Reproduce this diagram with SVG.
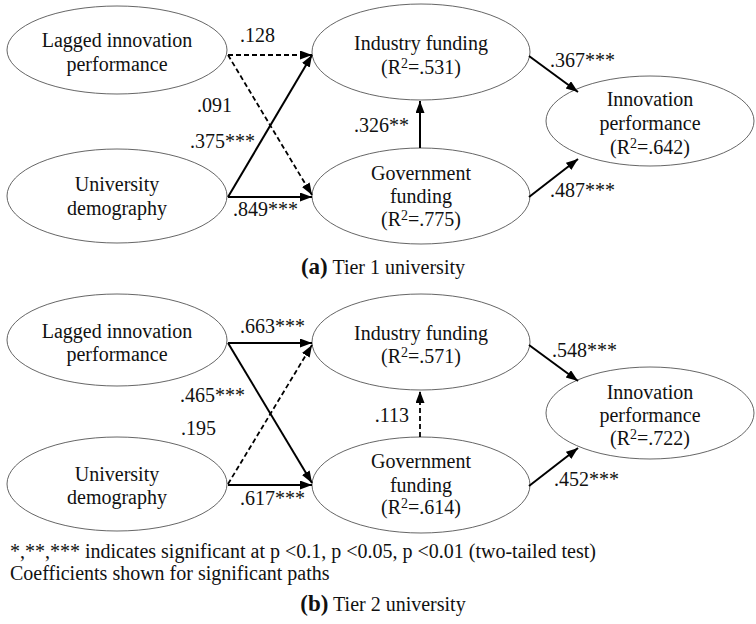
<svg xmlns="http://www.w3.org/2000/svg" width="756" height="624" viewBox="0 0 756 624">
<defs>
<marker id="ah" markerUnits="userSpaceOnUse" markerWidth="13" markerHeight="10" refX="12" refY="4.5" orient="auto">
<path d="M0,0 L12,4.5 L0,9 z" fill="#000"/>
</marker>
<style>
text{font-family:"Liberation Serif","Times New Roman",serif;fill:#111;}
.n ellipse{fill:#fff;stroke:#555;stroke-width:0.9;}
.n text{font-size:20px;text-anchor:middle;}
.lbl{font-size:20px;}
.s{stroke:#000;stroke-width:2;fill:none;marker-end:url(#ah);}
.d{stroke:#000;stroke-width:1.8;fill:none;stroke-dasharray:5,3;marker-end:url(#ah);}
.foot{font-size:20px;}
.cap{font-size:20px;text-anchor:middle;}
</style>
</defs>
<rect width="756" height="624" fill="#fff"/>

<!-- Panel (a) -->
<g id="a-lagged" class="n"><ellipse cx="117" cy="50" rx="110" ry="44"/><text x="117" y="47">Lagged innovation</text><text x="117" y="71">performance</text></g>
<g id="a-univ" class="n"><ellipse cx="117" cy="196" rx="110" ry="47"/><text x="117" y="191">University</text><text x="117" y="215">demography</text></g>
<g id="a-industry" class="n"><ellipse cx="421" cy="52" rx="109" ry="48"/><text x="421" y="50">Industry funding</text><text x="421" y="74">(R<tspan dy="-6" font-size="14">2</tspan><tspan dy="6">=.531)</tspan></text></g>
<g id="a-gov" class="n"><ellipse cx="421" cy="196" rx="109" ry="48"/><text x="421" y="180">Government</text><text x="421" y="203">funding</text><text x="421" y="226">(R<tspan dy="-6" font-size="14">2</tspan><tspan dy="6">=.775)</tspan></text></g>
<g id="a-innov" class="n"><ellipse cx="650" cy="121" rx="104" ry="45"/><text x="650" y="106">Innovation</text><text x="650" y="130">performance</text><text x="650" y="154">(R<tspan dy="-6" font-size="14">2</tspan><tspan dy="6">=.642)</tspan></text></g>

<g id="a-connectors">
<line class="d" x1="228" y1="55" x2="312" y2="55"/>
<line class="d" x1="228" y1="55" x2="312" y2="195"/>
<line class="s" x1="228" y1="197" x2="312" y2="55"/>
<line class="s" x1="228" y1="197" x2="312" y2="197"/>
<line class="s" x1="420" y1="148" x2="420" y2="101"/>
<line class="s" x1="529" y1="56" x2="578" y2="92"/>
<line class="s" x1="529" y1="197" x2="578" y2="159"/>
</g>
<g id="a-labels" class="lbl">
<text x="240" y="42">.128</text>
<text x="197" y="112">.091</text>
<text x="190" y="148">.375***</text>
<text x="233" y="216">.849***</text>
<text x="409" y="132" text-anchor="end">.326**</text>
<text x="550" y="67">.367***</text>
<text x="550" y="197">.487***</text>
</g>
<text class="cap" x="383" y="274"><tspan font-weight="bold" font-size="23">(a)</tspan> Tier 1 university</text>

<!-- Panel (b) -->
<g id="b-lagged" class="n"><ellipse cx="117" cy="340" rx="110" ry="46"/><text x="117" y="338">Lagged innovation</text><text x="117" y="361">performance</text></g>
<g id="b-univ" class="n"><ellipse cx="117" cy="484" rx="110" ry="47"/><text x="117" y="481">University</text><text x="117" y="504">demography</text></g>
<g id="b-industry" class="n"><ellipse cx="421" cy="342" rx="109" ry="48"/><text x="421" y="340">Industry funding</text><text x="421" y="363">(R<tspan dy="-6" font-size="14">2</tspan><tspan dy="6">=.571)</tspan></text></g>
<g id="b-gov" class="n"><ellipse cx="421" cy="485" rx="109" ry="48"/><text x="421" y="468">Government</text><text x="421" y="492">funding</text><text x="421" y="514">(R<tspan dy="-6" font-size="14">2</tspan><tspan dy="6">=.614)</tspan></text></g>
<g id="b-innov" class="n"><ellipse cx="650" cy="413" rx="104" ry="46"/><text x="650" y="399">Innovation</text><text x="650" y="422">performance</text><text x="650" y="445">(R<tspan dy="-6" font-size="14">2</tspan><tspan dy="6">=.722)</tspan></text></g>

<g id="b-connectors">
<line class="s" x1="228" y1="343" x2="312" y2="343"/>
<line class="s" x1="228" y1="343" x2="312" y2="483"/>
<line class="d" x1="228" y1="484" x2="312" y2="345"/>
<line class="s" x1="228" y1="485" x2="312" y2="485"/>
<line class="d" x1="420" y1="437" x2="420" y2="391"/>
<line class="s" x1="529" y1="345" x2="578" y2="381"/>
<line class="s" x1="529" y1="486" x2="578" y2="448"/>
</g>
<g id="b-labels" class="lbl">
<text x="240" y="333">.663***</text>
<text x="180" y="402">.465***</text>
<text x="181" y="435">.195</text>
<text x="240" y="505">.617***</text>
<text x="409" y="422" text-anchor="end">.113</text>
<text x="552" y="357">.548***</text>
<text x="554" y="486">.452***</text>
</g>

<text class="foot" x="10" y="558">*,**,*** indicates significant at p &lt;0.1, p &lt;0.05, p &lt;0.01 (two-tailed test)</text>
<text class="foot" x="10" y="580">Coefficients shown for significant paths</text>
<text class="cap" x="383" y="611"><tspan font-weight="bold" font-size="23">(b)</tspan> Tier 2 university</text>
</svg>
